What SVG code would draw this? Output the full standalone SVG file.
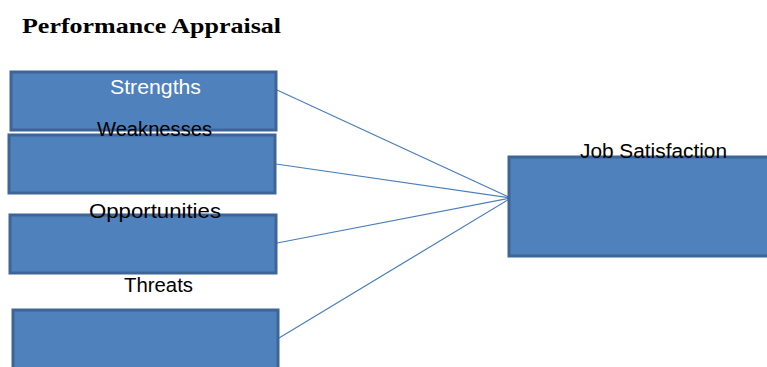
<svg xmlns="http://www.w3.org/2000/svg" width="767" height="367" viewBox="0 0 767 367">
<style>
.box{fill:#4F81BD;stroke:#3D6597;stroke-width:3}
.lbl{font-family:"Liberation Sans",Arial,sans-serif;font-size:20px;fill:#000}
.conn line{stroke:#4A7EBB;stroke-width:1.2}
</style>
<rect width="767" height="367" fill="#fff"/>
<text x="22" y="33" font-family="'Liberation Serif','Times New Roman',serif" font-weight="bold" font-size="21" textLength="259" lengthAdjust="spacingAndGlyphs">Performance Appraisal</text>
<g id="connectors" class="conn">
<line x1="277" y1="90" x2="511" y2="198"/>
<line x1="276" y1="164" x2="511" y2="198"/>
<line x1="277" y1="243" x2="511" y2="198"/>
<line x1="279" y1="338" x2="511" y2="198"/>
</g>
<g id="strengths">
<rect class="box" x="11" y="72" width="265" height="58"/>
<text class="lbl" x="110" y="94" style="fill:#fff" textLength="91" lengthAdjust="spacingAndGlyphs">Strengths</text>
</g>
<g id="weaknesses">
<rect class="box" x="9" y="135" width="266" height="58"/>
<text class="lbl" x="97" y="136" textLength="115" lengthAdjust="spacingAndGlyphs">Weaknesses</text>
</g>
<g id="opportunities">
<rect class="box" x="10" y="215" width="266" height="58"/>
<text class="lbl" x="89" y="218" textLength="132" lengthAdjust="spacingAndGlyphs">Opportunities</text>
</g>
<g id="threats">
<rect class="box" x="13" y="310" width="265" height="62"/>
<text class="lbl" x="124" y="292" textLength="69" lengthAdjust="spacingAndGlyphs">Threats</text>
</g>
<g id="job-satisfaction">
<rect class="box" x="509" y="157" width="265" height="99"/>
<text class="lbl" x="580" y="158" textLength="147" lengthAdjust="spacingAndGlyphs">Job Satisfaction</text>
</g>
</svg>
